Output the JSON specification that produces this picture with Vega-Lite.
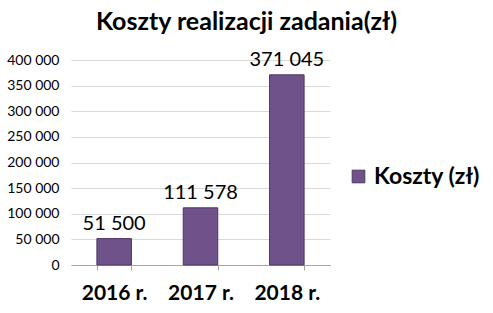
{
  "$schema": "https://vega.github.io/schema/vega-lite/v6.json",
  "autosize": {"type": "none"},
  "padding": {"left": 71, "top": 60, "right": 163, "bottom": 48},
  "width": 259,
  "height": 205,
  "background": "white",
  "title": {
    "text": "Koszty realizacji zadania(zł)",
    "font": "Lato",
    "fontSize": 25,
    "fontWeight": "bold",
    "color": "#000000",
    "anchor": "middle",
    "dx": 46,
    "offset": 15
  },
  "config": {
    "locale": {"number": {"decimal": ",", "thousands": " ", "grouping": [3], "currency": ["", " zł"]}},
    "view": {"stroke": null},
    "font": "Lato"
  },
  "data": {
    "values": [
      {"rok": "2016 r.", "koszty": 51500, "seria": "Koszty (zł)"},
      {"rok": "2017 r.", "koszty": 111578, "seria": "Koszty (zł)"},
      {"rok": "2018 r.", "koszty": 371045, "seria": "Koszty (zł)"}
    ]
  },
  "encoding": {
    "x": {
      "field": "rok", "type": "nominal", "title": null,
      "scale": {"paddingInner": 0.6, "paddingOuter": 0.3},
      "axis": {
        "labelAngle": 0, "labelFont": "Lato", "labelFontSize": 21, "labelFontWeight": "bold",
        "labelColor": "#000000", "labelPadding": 12, "tickBand": "extent", "tickSize": 5,
        "tickColor": "#a6a6a6", "domainColor": "#a6a6a6"
      }
    },
    "y": {
      "field": "koszty", "type": "quantitative", "title": null,
      "scale": {"domain": [0, 400000]},
      "axis": {
        "values": [0, 50000, 100000, 150000, 200000, 250000, 300000, 350000, 400000],
        "format": ",d", "labelFont": "Lato", "labelFontSize": 14, "labelColor": "#000000",
        "gridColor": "#d9d9d9", "domain": false, "ticks": false, "labelPadding": 12
      }
    }
  },
  "layer": [
    {
      "mark": {"type": "bar", "stroke": "#4d3863", "strokeWidth": 1},
      "encoding": {
        "color": {
          "field": "seria", "type": "nominal",
          "scale": {"range": ["#6e5289"]},
          "legend": {
            "title": null, "orient": "none", "legendX": 276, "legendY": 105,
            "labelFont": "Lato", "labelFontSize": 23, "labelFontWeight": "bold", "labelColor": "#000000",
            "symbolType": "square", "symbolSize": 160, "symbolStrokeColor": "#4d3863", "symbolStrokeWidth": 1
          }
        }
      }
    },
    {
      "mark": {"type": "text", "baseline": "bottom", "dy": -5, "fontSize": 20, "font": "Lato", "color": "#000000"},
      "encoding": {
        "text": {"field": "koszty", "type": "quantitative", "format": ",d"}
      }
    }
  ]
}
